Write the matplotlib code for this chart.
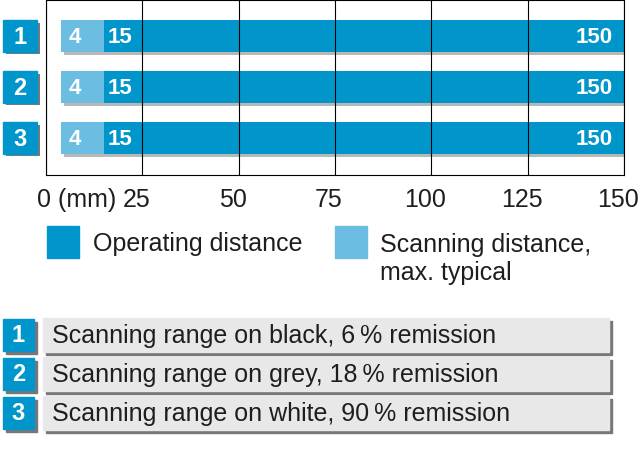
import matplotlib
matplotlib.use('Agg')
import matplotlib.pyplot as plt
import matplotlib.patheffects as pe
from matplotlib.patches import Rectangle
from matplotlib.transforms import blended_transform_factory, offset_copy

plt.rcParams['font.family'] = ['Liberation Sans Narrow', 'Liberation Sans', 'DejaVu Sans']

# data
rows = ['1', '2', '3']
scan_start = [4, 4, 4]
op_start = [15, 15, 15]
op_end = [150, 150, 150]
ticks = [0, 25, 50, 75, 100, 125, 150]
tick_labels = ['0 (mm)', '25', '50', '75', '100', '125', '150']
legend_labels = ['Operating distance', 'Scanning distance,\nmax. typical']
table_text = ['Scanning range on black, 6\u2009% remission',
              'Scanning range on grey, 18\u2009% remission',
              'Scanning range on white, 90\u2009% remission']

dark = '#0096cc'
light = '#6cbde2'
txt = '#1e1e1e'
fs = 18

fig = plt.figure(figsize=(6.4, 4.6), dpi=100)

# pixel overlay for decorations
ov = fig.add_axes([0, 0, 1, 1])
ov.set_xlim(0, 640)
ov.set_ylim(460, 0)
ov.axis('off')

ax = fig.add_axes([46 / 640, 1 - 176 / 460, 578 / 640, 175 / 460])
ax.patch.set_visible(False)

ys = list(range(len(rows)))
h = 0.627
shadow = [pe.SimplePatchShadow(offset=(2.2, -2.2), shadow_rgbFace='#b8b8b8', alpha=1.0), pe.Normal()]
light_bars = ax.barh(ys, [e - s for s, e in zip(scan_start, op_end)], left=scan_start,
                     height=h, color=light, zorder=1)
for b in light_bars:
    b.set_path_effects(shadow)
ax.barh(ys, [e - s for s, e in zip(op_start, op_end)], left=op_start, height=h, color=dark, zorder=1.5)

for y, s, o, e in zip(ys, scan_start, op_start, op_end):
    for v, ha, dx in [(s, 'left', 7), (o, 'left', 4), (e, 'right', -11)]:
        ax.text(v, y, str(v), color='white', fontsize=16, fontweight='bold', ha=ha, va='center',
                transform=offset_copy(ax.transData, fig, x=dx, y=0, units='dots'), zorder=4)

ax.set_xlim(0, 150)
ax.set_ylim(len(rows) - 1 + 0.725, -0.706)
ax.set_xticks(ticks)
ax.set_xticklabels([])
ax.set_yticks([])
ax.tick_params(length=0)
ax.grid(axis='x', color='black', linewidth=0.8)
ax.set_axisbelow(False)
for sp in ax.spines.values():
    sp.set_linewidth(0.8)

# tick labels
xb = blended_transform_factory(ax.transData, ax.transAxes)
for t, lab in zip(ticks, tick_labels):
    if t == 0:
        tr = offset_copy(xb, fig, x=-9, y=-24, units='dots')
        ax.text(t, 0, lab, transform=tr, ha='left', va='center', fontsize=fs, color=txt)
    else:
        tr = offset_copy(xb, fig, x=-6, y=-24, units='dots')
        ax.text(t, 0, lab, transform=tr, ha='center', va='center', fontsize=fs, color=txt)

# number badges next to bars
bt = blended_transform_factory(ov.transData, ax.transData)
for y, r in zip(ys, rows):
    rect = Rectangle((3, y - 0.31), 34, 0.62, color=dark, transform=bt, clip_on=False)
    rect.set_path_effects([pe.SimplePatchShadow(offset=(1.8, -1.8), shadow_rgbFace='#7a7a7a', alpha=1.0),
                           pe.Normal()])
    ov.add_patch(rect)
    ov.text(20, y, r, transform=bt, color='white', fontsize=17, fontweight='bold',
            ha='center', va='center')

# legend
ov.add_patch(Rectangle((47, 227), 32, 32, color=dark))
ov.add_patch(Rectangle((335, 227), 32, 32, color=light))
ov.text(93, 244, legend_labels[0], fontsize=fs, color=txt, ha='left', va='center')
ov.text(380, 259, legend_labels[1], fontsize=fs, color=txt, ha='left', va='center', linespacing=1.2)

# table
for i, (r, t) in enumerate(zip(rows, table_text)):
    top = 319 + 39 * i
    ov.add_patch(Rectangle((46, top + 3), 566, 34, color='#777777'))
    ov.add_patch(Rectangle((43, top), 566, 34, color='#e8e8e8'))
    ov.add_patch(Rectangle((6, top + 4), 31, 32, color='#777777'))
    ov.add_patch(Rectangle((3, top + 1), 31, 32, color=dark))
    ov.text(18.5, top + 17, r, color='white', fontsize=17, fontweight='bold', ha='center', va='center')
    ov.text(52, top + 17, t, color=txt, fontsize=fs, ha='left', va='center')

fig.savefig('out.png', dpi=100)
